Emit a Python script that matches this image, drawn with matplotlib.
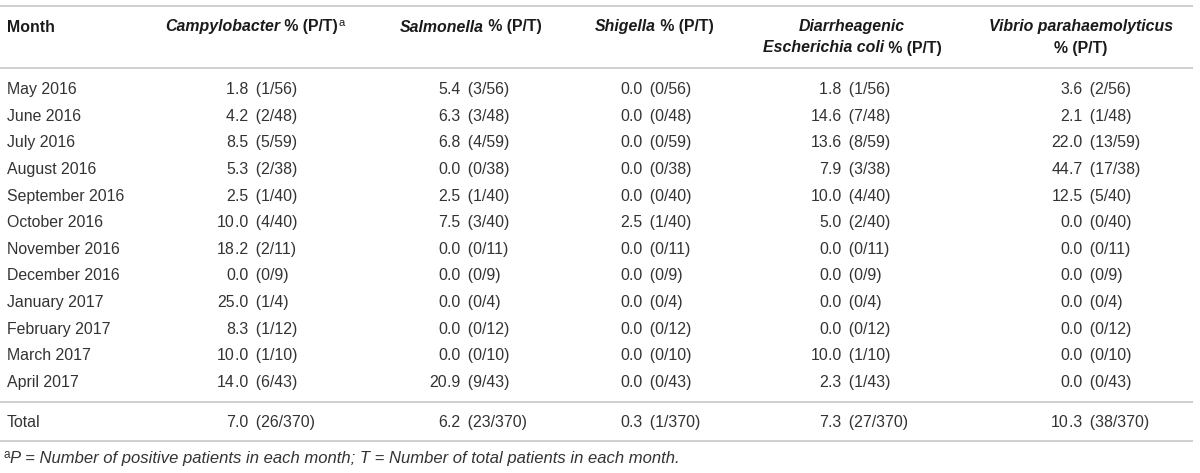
import matplotlib.pyplot as plt

plt.rcParams['font.family'] = ['Liberation Sans', 'DejaVu Sans']

months = ["May 2016", "June 2016", "July 2016", "August 2016", "September 2016",
          "October 2016", "November 2016", "December 2016", "January 2017",
          "February 2017", "March 2017", "April 2017"]
totals = [56, 48, 59, 38, 40, 40, 11, 9, 4, 12, 10, 43]

campy_pct = [1.8, 4.2, 8.5, 5.3, 2.5, 10.0, 18.2, 0.0, 25.0, 8.3, 10.0, 14.0]
campy_pos = [1, 2, 5, 2, 1, 4, 2, 0, 1, 1, 1, 6]
salm_pct = [5.4, 6.3, 6.8, 0.0, 2.5, 7.5, 0.0, 0.0, 0.0, 0.0, 0.0, 20.9]
salm_pos = [3, 3, 4, 0, 1, 3, 0, 0, 0, 0, 0, 9]
shig_pct = [0.0, 0.0, 0.0, 0.0, 0.0, 2.5, 0.0, 0.0, 0.0, 0.0, 0.0, 0.0]
shig_pos = [0, 0, 0, 0, 0, 1, 0, 0, 0, 0, 0, 0]
dec_pct = [1.8, 14.6, 13.6, 7.9, 10.0, 5.0, 0.0, 0.0, 0.0, 0.0, 10.0, 2.3]
dec_pos = [1, 7, 8, 3, 4, 2, 0, 0, 0, 0, 1, 1]
vib_pct = [3.6, 2.1, 22.0, 44.7, 12.5, 0.0, 0.0, 0.0, 0.0, 0.0, 0.0, 0.0]
vib_pos = [2, 1, 13, 17, 5, 0, 0, 0, 0, 0, 0, 0]

total_n = 370
total_pct = [7.0, 6.2, 0.3, 7.3, 10.3]
total_pos = [26, 23, 1, 27, 38]

FS = 11.4
BODY = '#333333'
HEAD = '#1a1a1a'
LINE = '#cfcfcf'

fig = plt.figure(figsize=(12, 4.73), dpi=100)
ax = fig.add_axes([0, 0, 1, 1])
ax.set_xlim(0, 1200)
ax.set_ylim(473, 0)
ax.axis('off')
rend = fig.canvas.get_renderer()


def runs(x, y, parts, ha='left', color=HEAD):
    # parts: (text, style, weight, size, raise)
    objs = []
    for txt, style, weight, size, dy in parts:
        t = ax.text(0, y - dy, txt, fontsize=size, style=style, fontweight=weight,
                    color=color, va='baseline', ha='left')
        objs.append(t)
    widths = [o.get_window_extent(rend).width for o in objs]
    total = sum(widths)
    x0 = x - total / 2 if ha == 'center' else x
    for o, w in zip(objs, widths):
        o.set_x(x0)
        x0 += w


# rules
for yy in [6, 68, 402, 441]:
    ax.plot([0, 1193], [yy, yy], color=LINE, lw=1.4, solid_capstyle='butt')

# header
b1, b2 = 31.5, 52.5
IB = ('italic', 'bold', FS, 0)
runs(7, b1, [("Month", 'normal', 'bold', FS, 0)])
runs(255, b1, [("Campylobacter",) + IB, (" % (P/T)", 'normal', 'bold', FS, 0),
               ("a", 'normal', 'normal', 8, 5)], ha='center')
runs(471, b1, [("Salmonella",) + IB, (" % (P/T)", 'normal', 'bold', FS, 0)], ha='center')
runs(654, b1, [("Shigella",) + IB, (" % (P/T)", 'normal', 'bold', FS, 0)], ha='center')
runs(852, b1, [("Diarrheagenic",) + IB], ha='center')
runs(852, b2, [("Escherichia coli",) + IB, (" % (P/T)", 'normal', 'bold', FS, 0)], ha='center')
runs(1081, b1, [("Vibrio parahaemolyticus",) + IB], ha='center')
runs(1081, b2, [("% (P/T)", 'normal', 'bold', FS, 0)], ha='center')

# body
columns = [(campy_pct, campy_pos), (salm_pct, salm_pos), (shig_pct, shig_pos),
           (dec_pct, dec_pos), (vib_pct, vib_pos)]
dec_x = [235, 447, 629, 828, 1069]
row0, step = 88.5, 26.6


def cell(xd, y, pct, p, t):
    whole, frac = f"{pct:.1f}".split('.')
    ax.text(xd, y, whole, fontsize=FS, color=BODY, ha='right', va='baseline')
    ax.text(xd, y, f".{frac} \u2009({p}/{t})", fontsize=FS, color=BODY, ha='left', va='baseline')


for i, m in enumerate(months):
    y = row0 + i * step + 5.7
    ax.text(7, y, m, fontsize=FS, color=BODY, va='baseline')
    for (pcts, pos), xd in zip(columns, dec_x):
        cell(xd, y, pcts[i], pos[i], totals[i])

yt = 421 + 5.7
ax.text(7, yt, "Total", fontsize=FS, color=BODY, va='baseline')
for j, xd in enumerate(dec_x):
    cell(xd, yt, total_pct[j], total_pos[j], total_n)

# footnote
runs(4, 463, [("a", 'normal', 'normal', 8.5, 5),
              ("P = Number of positive patients in each month; T = Number of total patients in each month.",
               'italic', 'normal', 12, 0)], color=BODY)

fig.savefig('out.png', dpi=100)
